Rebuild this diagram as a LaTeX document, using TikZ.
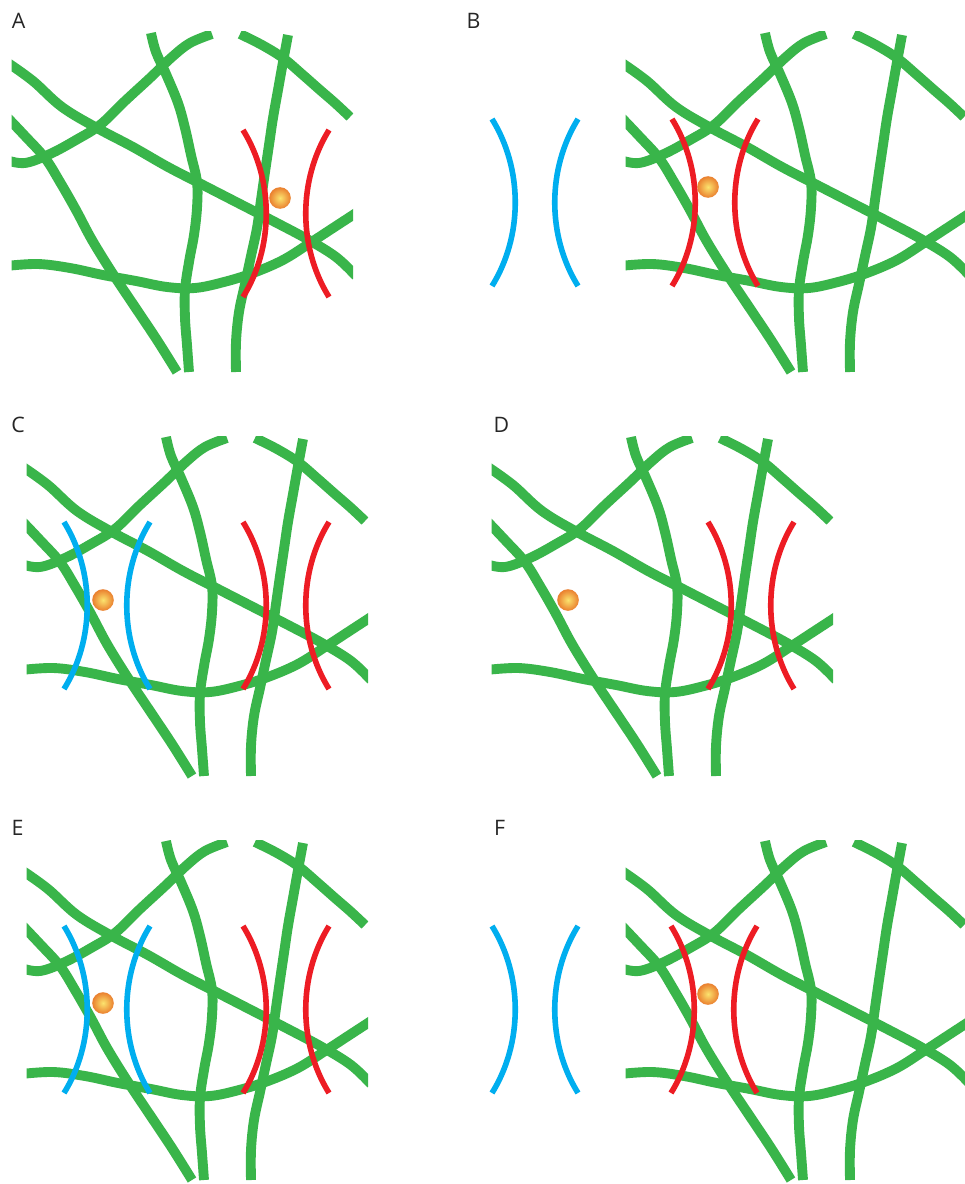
\documentclass[tikz,border=0pt]{standalone}
\usepackage{fontspec}
\setmainfont{Open Sans}
\definecolor{fibre}{HTML}{39B54A}
\definecolor{arcred}{HTML}{ED1C24}
\definecolor{arcblue}{HTML}{00AEEF}
\definecolor{ballrim}{HTML}{EA7F2E}
\definecolor{ballcore}{HTML}{FBE36E}
\tikzset{
  x=0.75pt, y=-0.75pt,
  fibreline/.style={draw=fibre, line width=7.4pt, line cap=butt, line join=round},
  arcline/.style={line width=4.2pt, line cap=butt},
  panellabel/.style={font=\fontsize{16}{18}\selectfont, text=black!85, inner sep=0pt},
  pics/fibres/.style={code={
    \begin{scope}
      \clip (11.5,32) rectangle (353,380);
      \draw[fibreline] plot[smooth, tension=0.6] coordinates {(8,63) (33,81) (62,107) (97,128) (133,147) (168,167) (203,185) (240,204) (275,222) (307,239) (336,257) (356,276)};
      \draw[fibreline] plot[smooth, tension=0.6] coordinates {(6,160) (25,163) (50,154) (76,140) (100,125) (125,101) (150,78) (172,57) (190,43) (212,34)};
      \draw[fibreline] plot[smooth, tension=0.6] coordinates {(6,116) (25,136) (45,158) (60,182) (76,210) (92,240) (113,274) (135,307) (157,340) (177,372)};
      \draw[fibreline] plot[smooth, tension=0.6] coordinates {(151,33) (156,52) (166,74) (178,103) (185,128) (191,155) (197,182) (197,208) (194,235) (189,262) (185,290) (185,318) (187,345) (189,372)};
      \draw[fibreline] plot[smooth, tension=0.6] coordinates {(288,35) (283,62) (278,90) (273,118) (269,145) (265,172) (261,200) (257,228) (251,256) (245,284) (239,312) (236,342) (236,372)};
      \draw[fibreline] plot[smooth, tension=0.6] coordinates {(240,34) (262,45) (283,58) (303,75) (320,90) (335,103) (350,117)};
      \draw[fibreline] plot[smooth, tension=0.6] coordinates {(6,266) (38,264) (70,268) (103,275) (136,281) (167,287) (195,288) (224,282) (253,273) (283,260) (310,243) (333,228) (356,213)};
    \end{scope}
  }},
  pics/arcpair/.style={code={
    \draw[arcline, #1] (0,0) .. controls (31,50) and (31,117) .. (0,167);
    \draw[arcline, #1] (86,0) .. controls (55,50) and (55,117) .. (86,167);
  }},
}
% Diffusing particle: shaded disc with a bright centre
\newcommand{\particle}[3]{\shade[inner color=ballcore, outer color=ballrim] (#2,#3) circle[radius=10.8];\coordinate (#1) at (#2,#3);}
\begin{document}
\begin{tikzpicture}
  \useasboundingbox (0,0) rectangle (964,1184);
  \fill[white] (0,0) rectangle (964,1184);

  % Fibre networks
  \pic (netA) at (0,0) {fibres};
  \pic (netB) at (614,0) {fibres};
  \pic (netC) at (15,404) {fibres};
  \pic (netD) at (480,404) {fibres};
  \pic (netE) at (15,808) {fibres};
  \pic (netF) at (614,808) {fibres};

  % Confining arc pairs
  \pic (redA) at (243,130) {arcpair=arcred};
  \pic (blueB) at (492,119) {arcpair=arcblue};
  \pic (redB) at (672,119) {arcpair=arcred};
  \pic (blueC) at (64,522) {arcpair=arcblue};
  \pic (redC) at (243,522) {arcpair=arcred};
  \pic (redD) at (708,522) {arcpair=arcred};
  \pic (blueE) at (64,926) {arcpair=arcblue};
  \pic (redE) at (243,926) {arcpair=arcred};
  \pic (blueF) at (492,926) {arcpair=arcblue};
  \pic (redF) at (671,926) {arcpair=arcred};

  % Particles
  \particle{ballA}{280}{198}
  \particle{ballB}{708}{187}
  \particle{ballC}{103}{600}
  \particle{ballD}{568}{600}
  \particle{ballE}{103}{1003}
  \particle{ballF}{708}{994}

  % Panel letters
  \node[panellabel] (labA) at (18.5,20.5) {A};
  \node[panellabel] (labB) at (473.5,20.5) {B};
  \node[panellabel] (labC) at (18,424.5) {C};
  \node[panellabel] (labD) at (501.5,424.5) {D};
  \node[panellabel] (labE) at (17.5,827.5) {E};
  \node[panellabel] (labF) at (499.5,827.5) {F};
\end{tikzpicture}
\end{document}
